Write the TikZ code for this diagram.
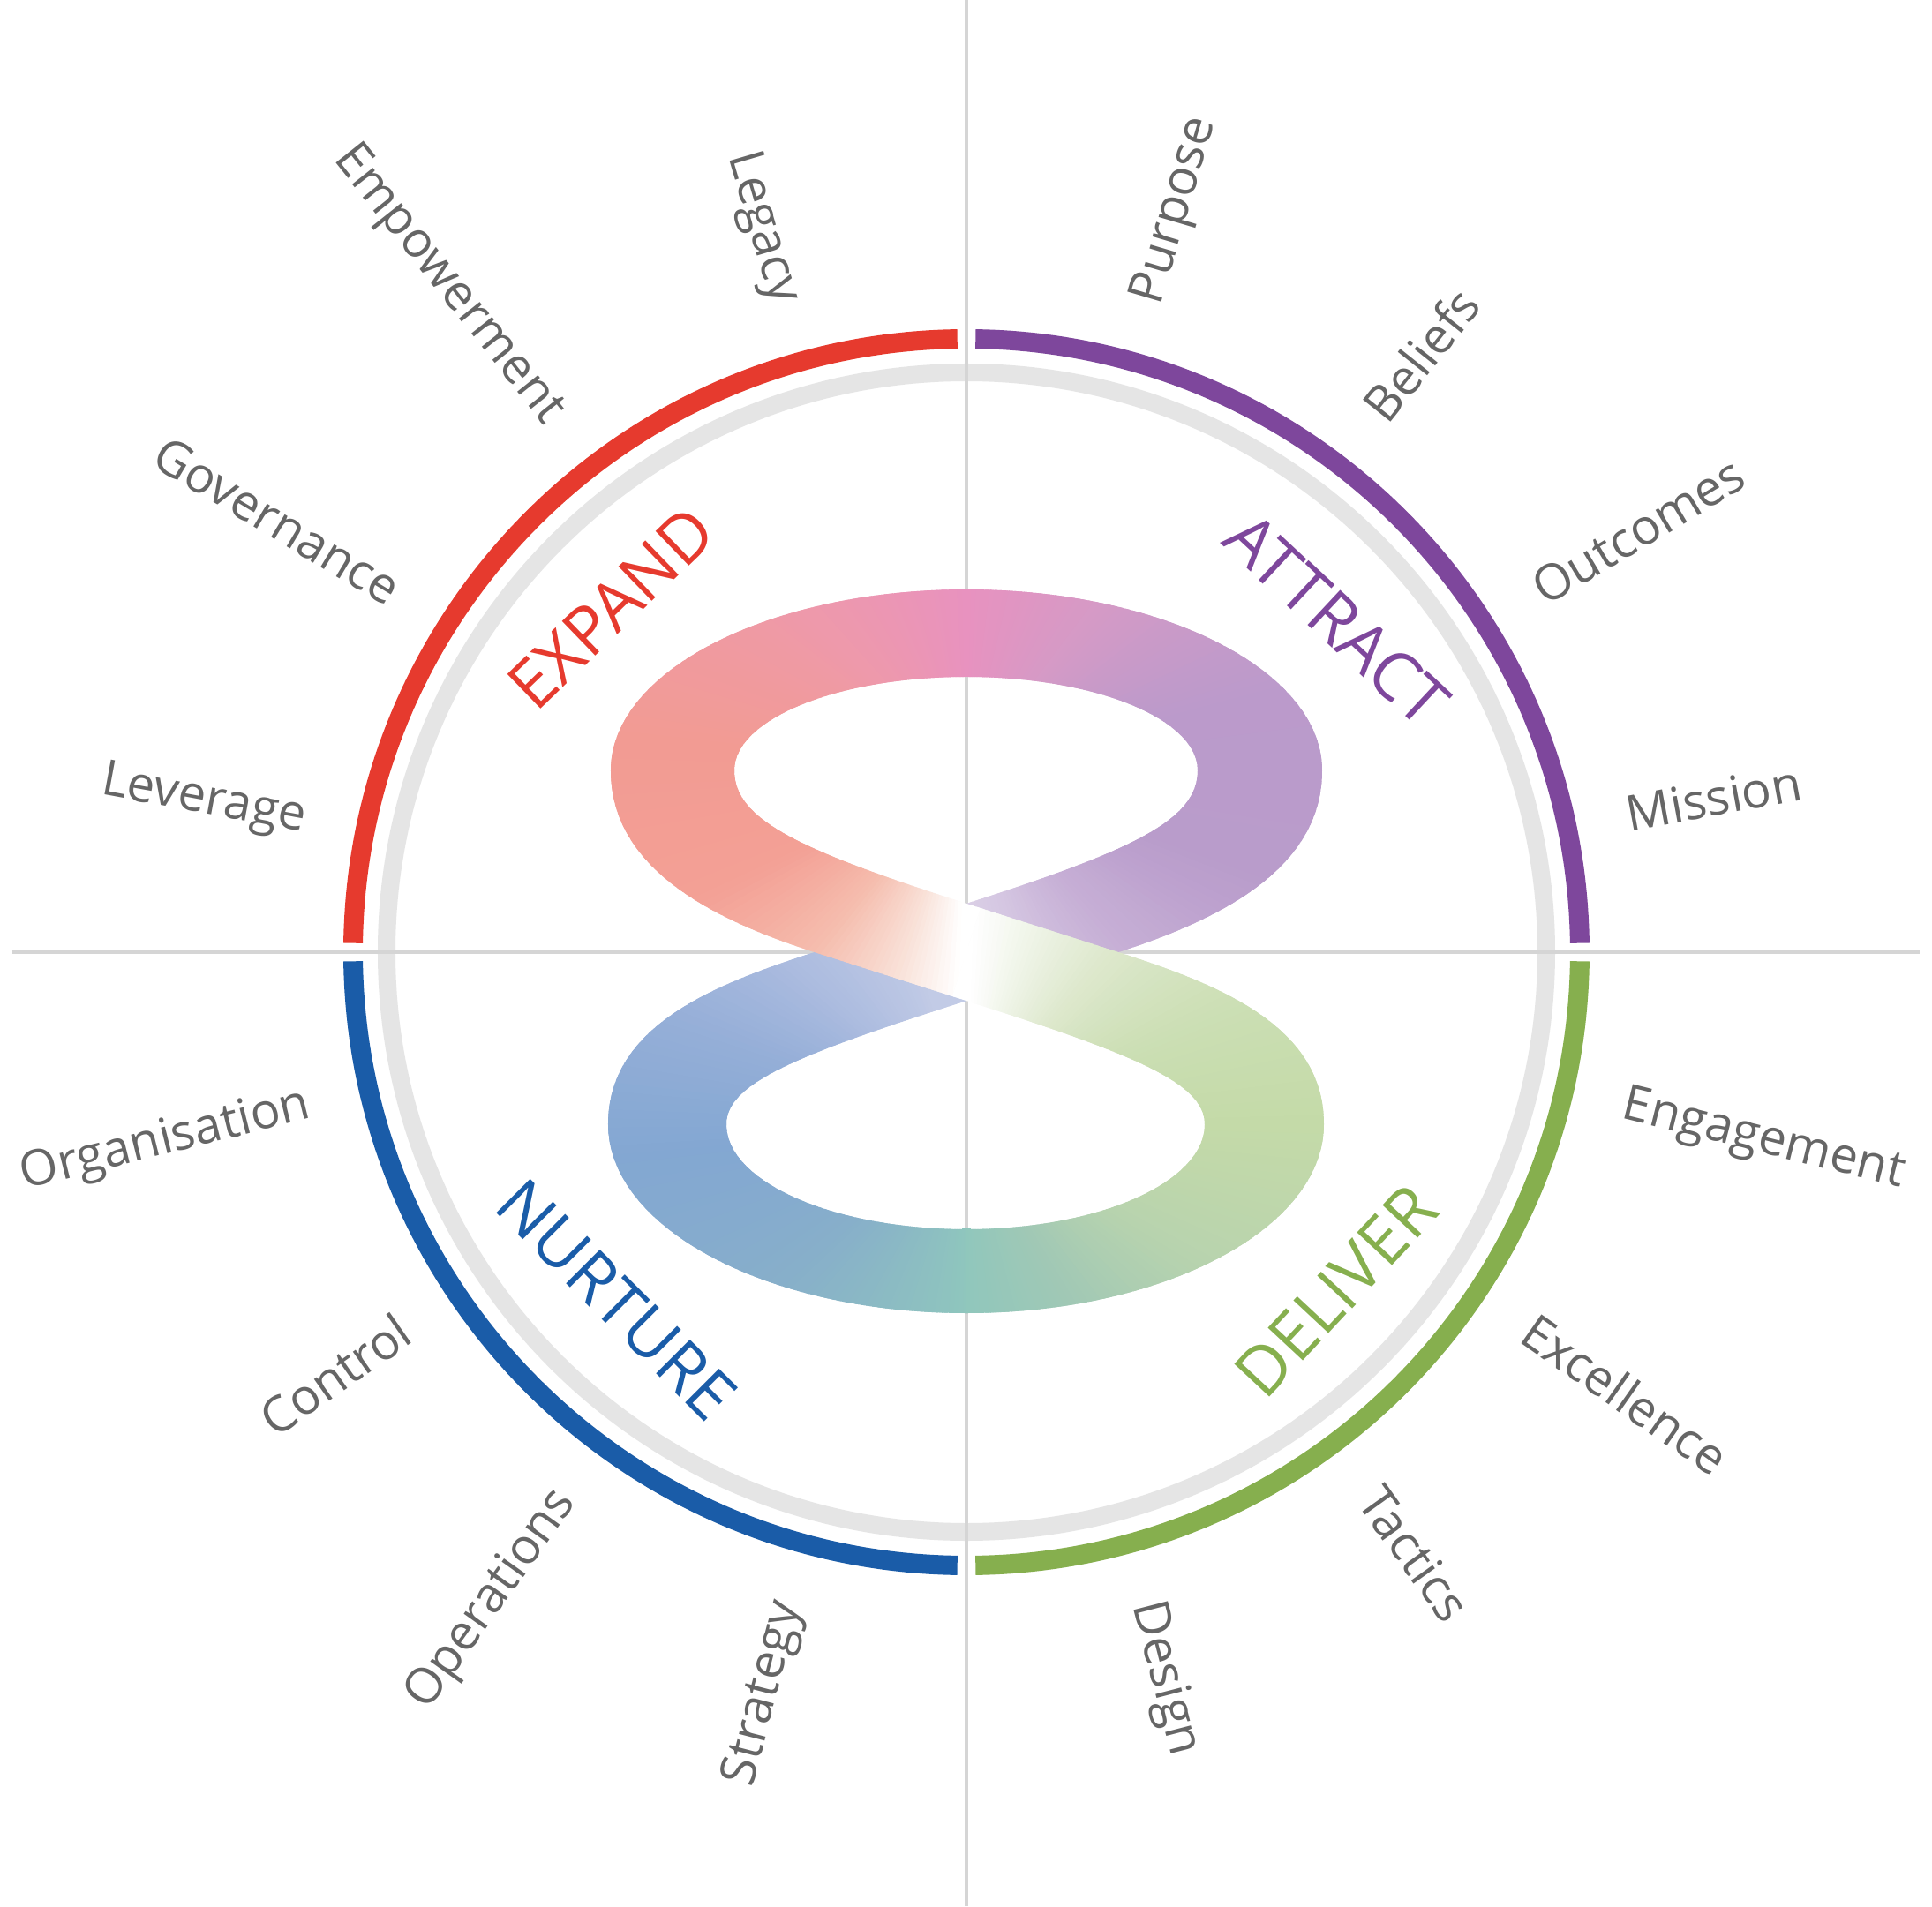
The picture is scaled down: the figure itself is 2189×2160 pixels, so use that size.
\documentclass[tikz,border=0pt]{standalone}
\usepackage{fontspec}
\setmainfont{Open Sans}
\definecolor{cred}{HTML}{E63A2E}
\definecolor{cpurple}{HTML}{7E479C}
\definecolor{cblue}{HTML}{1A5CA8}
\definecolor{cgreen}{HTML}{86AF4E}
\definecolor{labgray}{HTML}{666666}
\definecolor{ringgray}{HTML}{E5E5E5}
\definecolor{axisgray}{HTML}{D5D5D5}
\definecolor{gPink}{HTML}{E892BF}
\definecolor{gRose}{HTML}{EE99AB}
\definecolor{gSalmon}{HTML}{F29B93}
\definecolor{gSalmonB}{HTML}{F3A095}
\definecolor{gPeach}{HTML}{F5BDAE}
\definecolor{gPeachL}{HTML}{F9E2D9}
\definecolor{gMauve}{HTML}{D59AC6}
\definecolor{gPurple}{HTML}{BB9ACB}
\definecolor{gPurpleB}{HTML}{B99CCB}
\definecolor{gLilac}{HTML}{C7B0D6}
\definecolor{gLav}{HTML}{D5C7E2}
\definecolor{gLavL}{HTML}{DDD3E8}
\definecolor{gBlueL}{HTML}{C2CBE6}
\definecolor{gBlueM}{HTML}{AEBDE0}
\definecolor{gBlueN}{HTML}{96AFD8}
\definecolor{gBlue}{HTML}{83A7D2}
\definecolor{gBlueT}{HTML}{87AFCA}
\definecolor{gTealB}{HTML}{8CBDC2}
\definecolor{gTeal}{HTML}{8FC7BD}
\definecolor{gSage}{HTML}{A0C8B5}
\definecolor{gSageG}{HTML}{B8D3AE}
\definecolor{gGreen}{HTML}{C4DAA8}
\definecolor{gGreenB}{HTML}{CCDFB5}
\definecolor{gGreenL}{HTML}{DDE8CC}
\definecolor{gGreenX}{HTML}{EEF3E6}
% conic gradient segment: cx, cy, a0, a1, colour0, colour1
\newcommand\gseg[6]{%
  \pgfmathtruncatemacro\gsn{max(1,round(abs((#4)-(#3))/1.5))}%
  \foreach \gsk in {1,...,\gsn}{%
    \pgfmathsetmacro\gsa{(#3)+(\gsk-1)*((#4)-(#3))/\gsn}%
    \pgfmathsetmacro\gsb{(#3)+(\gsk+0.8)*((#4)-(#3))/\gsn}%
    \pgfmathsetmacro\gsp{100*(\gsk-0.5)/\gsn}%
    \fill[#6!\gsp!#5] (#1,#2) -- +(\gsa:900) -- +(\gsb:900) -- cycle;
  }%
}
\begin{document}
\begin{tikzpicture}[x=1pt,y=1pt,
  lab/.style={text=labgray, font=\fontsize{56}{66}\selectfont, inner sep=0pt},
  hdr/.style={font=\fontsize{76}{90}\selectfont, inner sep=0pt},
  axisline/.style={draw=axisgray, line width=3.5pt},
  ringline/.style={draw=ringgray, line width=20pt},
  quadarc/.style={line width=22pt}]
\useasboundingbox (-1095,-1081) rectangle (1094,1079);
\fill[white] (-1095,-1081) rectangle (1094,1079);

% grey ring and axes
\draw[ringline] (0,0) circle[radius=657];
\draw[axisline] (-1081,0) -- (1080,0);
\draw[axisline] (0,1079) -- (0,-1081);

% coloured quadrant arcs
\draw[quadarc,draw=cpurple] (0.85:695) arc[start angle=0.85,end angle=89.15,radius=695];
\draw[quadarc,draw=cred] (90.85:695) arc[start angle=90.85,end angle=179.15,radius=695];
\draw[quadarc,draw=cblue] (180.85:695) arc[start angle=180.85,end angle=269.15,radius=695];
\draw[quadarc,draw=cgreen] (270.85:695) arc[start angle=270.85,end angle=359.15,radius=695];

% underlays hiding seams
\fill[gPink] (-5,313) rectangle (5,410);
\fill[gTeal] (-5,-313) rectangle (5,-408);

% band B, upper right part
\begin{scope}
\clip (-16,49.9) -- (0,55)
  .. controls (190,116) and (262,150) .. (262,206)
  .. controls (262,264.5) and (145,312) .. (0,312)
  -- (0,411)
  .. controls (222,411) and (403,319) .. (403,206)
  .. controls (403,96) and (290,37.8) .. (172,0)
  -- (16,-49.9) -- cycle;
\gseg{0}{206}{90}{50}{gPink}{gMauve}
\gseg{0}{206}{50}{15}{gMauve}{gPurple}
\gseg{0}{206}{15}{-20}{gPurple}{gPurpleB}
\gseg{0}{206}{-20}{-50}{gPurpleB}{gLilac}
\gseg{0}{206}{-50}{-75}{gLilac}{gLav}
\gseg{0}{206}{-75}{-95}{gLav}{gLavL}
\gseg{0}{206}{-95}{-115}{gLavL}{gLavL}
\end{scope}

% band B, lower left part
\begin{scope}
\clip (-16,49.9) -- (-172,0)
  .. controls (-290,-37.8) and (-406,-85) .. (-406,-195)
  .. controls (-406,-313) and (-224,-409) .. (0,-409)
  -- (0,-314)
  .. controls (-149,-314) and (-272,-261) .. (-272,-195)
  .. controls (-272,-148) and (-190,-115.8) .. (0,-55)
  -- (16,-49.9) -- cycle;
\gseg{0}{-195}{75}{105}{gBlueL}{gBlueL}
\gseg{0}{-195}{105}{135}{gBlueL}{gBlueM}
\gseg{0}{-195}{135}{160}{gBlueM}{gBlueN}
\gseg{0}{-195}{160}{185}{gBlueN}{gBlue}
\gseg{0}{-195}{185}{220}{gBlue}{gBlueT}
\gseg{0}{-195}{220}{250}{gBlueT}{gTealB}
\gseg{0}{-195}{250}{272}{gTealB}{gTeal}
\end{scope}

% white underlay at the centre cut of band A
\fill[white] (12,51.2) -- (20,48.6) -- (-12,-51.2) -- (-20,-48.6) -- cycle;

% band A, upper left part
\begin{scope}
\clip (16,49.9) -- (0,55)
  .. controls (-190,116) and (-263,150) .. (-263,206)
  .. controls (-263,264.5) and (-145,312) .. (0,312)
  -- (0,411)
  .. controls (-222,411) and (-403,319) .. (-403,206)
  .. controls (-403,96) and (-290,37.8) .. (-172,0)
  -- (-16,-49.9) -- cycle;
\gseg{0}{206}{90}{135}{gPink}{gRose}
\gseg{0}{206}{135}{175}{gRose}{gSalmon}
\gseg{0}{206}{175}{205}{gSalmon}{gSalmonB}
\gseg{0}{206}{205}{230}{gSalmonB}{gPeach}
\gseg{0}{206}{230}{252}{gPeach}{gPeachL}
\gseg{0}{206}{252}{268}{gPeachL}{white}
\gseg{0}{206}{268}{295}{white}{white}
\end{scope}

% band A, lower right part
\begin{scope}
\clip (16,49.9) -- (172,0)
  .. controls (290,-37.8) and (405,-85) .. (405,-195)
  .. controls (405,-313) and (224,-409) .. (0,-409)
  -- (0,-314)
  .. controls (149,-314) and (270,-261) .. (270,-195)
  .. controls (270,-148) and (190,-115.8) .. (0,-55)
  -- (-16,-49.9) -- cycle;
\gseg{0}{-195}{268}{300}{gTeal}{gSage}
\gseg{0}{-195}{300}{330}{gSage}{gSageG}
\gseg{0}{-195}{330}{360}{gSageG}{gGreen}
\gseg{0}{-195}{360}{385}{gGreen}{gGreenB}
\gseg{0}{-195}{385}{410}{gGreenB}{gGreenL}
\gseg{0}{-195}{410}{430}{gGreenL}{gGreenX}
\gseg{0}{-195}{430}{448}{gGreenX}{white}
\gseg{0}{-195}{448}{475}{white}{white}
\end{scope}

% quadrant headings
\node[hdr, text=cred, rotate=44] (expand) at (135.9:561) {EXPAND};
\node[hdr, text=cpurple, rotate=-43] (attract) at (41.9:564) {ATTRACT};
\node[hdr, text=cblue, rotate=-45] (nurture) at (224.8:559) {NURTURE};
\node[hdr, text=cgreen, rotate=47] (deliver) at (-42.5:568) {DELIVER};

% outer labels, right half
\foreach \nm/\ang/\txt in {purpose/73.5/Purpose, beliefs/51.5/Beliefs,
  outcomes/31/Outcomes, mission/10.5/Mission, engagement/-14/Engagement,
  excellence/-35/Excellence, tactics/-54.5/Tactics, design/-75.5/Design}
  \node[lab, anchor=mid west, rotate=\ang] (\nm) at (\ang:764) {\txt};

% outer labels, left half
\foreach \nm/\ang/\txt in {legacy/106.5/Legacy, empowerment/128.5/Empowerment,
  governance/149/Governance, leverage/169.5/Leverage, organisation/194/Organisation,
  control/215/Control, operations/234.5/Operations, strategy/255.5/Strategy}
  \node[lab, anchor=mid east, rotate=\ang-180] (\nm) at (\ang:764) {\txt};
\end{tikzpicture}
\end{document}
